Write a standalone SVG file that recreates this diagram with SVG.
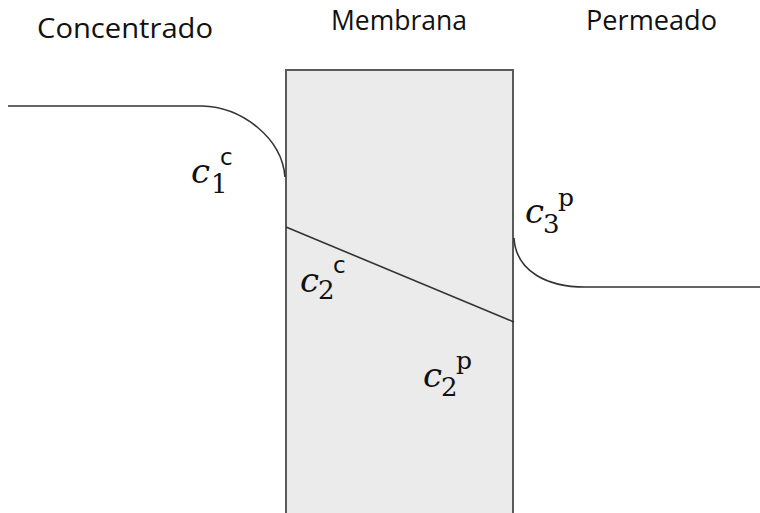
<svg xmlns="http://www.w3.org/2000/svg" width="760" height="513" viewBox="0 0 760 513">
  <style>
    .head { font-family: "Open Sans", "Noto Sans", sans-serif; font-size: 28px; fill: #111; }
    .var { font-family: "DejaVu Serif", "Liberation Serif", serif; font-style: italic; font-size: 34px; fill: #111; }
    .sub { font-family: "DejaVu Serif", "Liberation Serif", serif; font-size: 26px; fill: #111; }
    .supc { font-family: "DejaVu Sans", "Liberation Sans", sans-serif; font-size: 23px; fill: #111; }
    .supp { font-family: "DejaVu Serif", "Liberation Serif", serif; font-size: 25px; fill: #111; }
    .curve { fill: none; stroke: #333; stroke-width: 1.6; }
  </style>
  <rect width="760" height="513" fill="#ffffff"/>

  <!-- region headings -->
  <g id="headings">
    <text class="head" x="37" y="38" textLength="176" lengthAdjust="spacingAndGlyphs">Concentrado</text>
    <text class="head" x="331" y="30" textLength="136" lengthAdjust="spacingAndGlyphs">Membrana</text>
    <text class="head" x="586" y="30" textLength="131" lengthAdjust="spacingAndGlyphs">Permeado</text>
  </g>

  <!-- membrane block, open at the bottom -->
  <g id="membrane">
    <rect x="286" y="70" width="227" height="460" fill="#ebebeb" stroke="#5a5a5a" stroke-width="2"/>
  </g>

  <!-- concentration profile -->
  <g id="profile">
    <path class="curve" d="M8,106 L202,106 C242,107 282,138 285,177"/>
    <path class="curve" d="M286,227 L514,322"/>
    <path class="curve" d="M514,238 C516,272 548,287 585,287 L760,287"/>
  </g>

  <!-- concentration labels: variable, subscript index, superscript side -->
  <g id="c1c">
    <text class="var" x="191" y="183">c</text>
    <text class="sub" x="211" y="193">1</text>
    <text class="supc" x="220" y="165">c</text>
  </g>
  <g id="c2c">
    <text class="var" x="300" y="292">c</text>
    <text class="sub" x="318" y="299">2</text>
    <text class="supc" x="333" y="273">c</text>
  </g>
  <g id="c2p">
    <text class="var" x="423" y="387">c</text>
    <text class="sub" x="441" y="396">2</text>
    <text class="supp" x="456" y="369">p</text>
  </g>
  <g id="c3p">
    <text class="var" x="525" y="223">c</text>
    <text class="sub" x="543" y="233">3</text>
    <text class="supp" x="558" y="206">p</text>
  </g>
</svg>
